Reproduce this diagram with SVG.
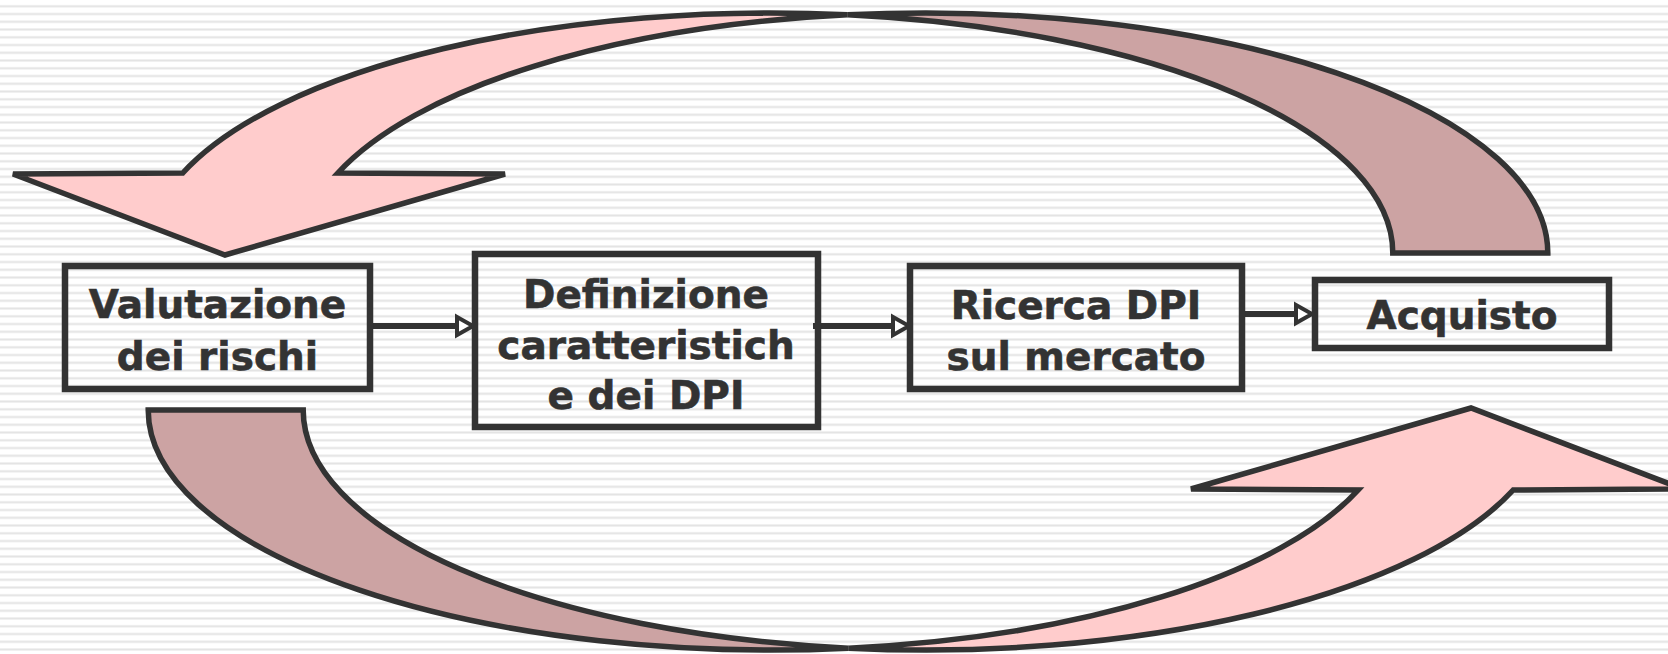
<svg xmlns="http://www.w3.org/2000/svg" width="1668" height="654" viewBox="0 0 1668 654">
<defs>
<pattern id="stripes" patternUnits="userSpaceOnUse" x="0" y="0" width="20" height="7.75">
<rect x="0" y="0" width="20" height="7.75" fill="#ffffff"/>
<rect x="0" y="5" width="20" height="1" fill="#ececec"/>
<rect x="0" y="6" width="20" height="1.2" fill="#dedede"/>
</pattern>
<style>
.box{fill:none;stroke:#333333;stroke-width:6.5}
.lbl{font-family:"DejaVu Sans","Verdana",sans-serif;font-weight:bold;font-size:39px;fill:#333333;stroke:#333333;stroke-width:0.6;text-anchor:middle}
.front{fill:#FFCCCC;stroke:#333333;stroke-width:5.5;stroke-linejoin:miter}
.back{fill:#CCA3A3;stroke:#333333;stroke-width:5.5;stroke-linejoin:miter}
.cline{stroke:#333333;stroke-width:6;fill:none}
.chead{fill:#ffffff;stroke:#333333;stroke-width:4;stroke-linejoin:miter}
</style>
</defs>
<rect x="0" y="0" width="1668" height="654" fill="url(#stripes)"/>

<g id="arrow-top">
<path class="back" d="M847.5,14.86 A622.8,240 0 0 1 1547.8,253 L1392.8,253 A622.8,240 0 0 0 847.5,14.86 Z"/>
<path class="front" d="M182.8,173 A622.8,240 0 0 1 847.5,14.86 A622.8,240 0 0 0 337.8,173 L505,174 L225,255 L13,174 Z"/>
</g>
<g id="arrow-bottom" transform="rotate(180 848 331.5)">
<path class="back" d="M847.5,14.86 A622.8,240 0 0 1 1547.8,253 L1392.8,253 A622.8,240 0 0 0 847.5,14.86 Z"/>
<path class="front" d="M182.8,173 A622.8,240 0 0 1 847.5,14.86 A622.8,240 0 0 0 337.8,173 L505,174 L225,255 L13,174 Z"/>
</g>

<g id="connectors">
<line class="cline" x1="367" y1="326" x2="458" y2="326"/>
<polygon class="chead" points="457,317 473,326 457,335"/>
<line class="cline" x1="813" y1="326" x2="894" y2="326"/>
<polygon class="chead" points="893,317 909,326 893,335"/>
<line class="cline" x1="1243" y1="314" x2="1297" y2="314"/>
<polygon class="chead" points="1296,305 1312,314 1296,323"/>
</g>

<g id="node-valutazione">
<rect class="box" x="65" y="266" width="305" height="123"/>
<text class="lbl" x="217.5" y="318">Valutazione</text>
<text class="lbl" x="217.5" y="370">dei rischi</text>
</g>
<g id="node-definizione">
<rect class="box" x="475" y="254" width="343" height="173"/>
<text class="lbl" x="646" y="308">Definizione</text>
<text class="lbl" x="646" y="358.5">caratteristich</text>
<text class="lbl" x="646" y="409">e dei DPI</text>
</g>
<g id="node-ricerca">
<rect class="box" x="910" y="266" width="332" height="123"/>
<text class="lbl" x="1076" y="319">Ricerca DPI</text>
<text class="lbl" x="1076" y="370">sul mercato</text>
</g>
<g id="node-acquisto">
<rect class="box" x="1315" y="280" width="294" height="68"/>
<text class="lbl" x="1462" y="329">Acquisto</text>
</g>
</svg>
